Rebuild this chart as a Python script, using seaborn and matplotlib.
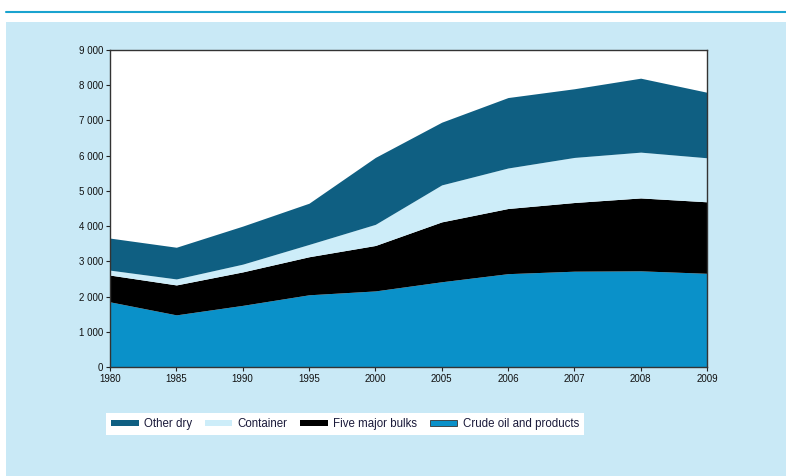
import matplotlib
matplotlib.use("Agg")
import matplotlib.pyplot as plt
import seaborn as sns
import numpy as np
from matplotlib.patches import Rectangle, Patch
from matplotlib.lines import Line2D

years = ["1980", "1985", "1990", "1995", "2000", "2005", "2006", "2007", "2008", "2009"]
crude_oil = [1850, 1480, 1750, 2050, 2160, 2420, 2650, 2720, 2730, 2660]
five_major_bulks = [760, 850, 950, 1080, 1290, 1700, 1850, 1950, 2070, 2030]
container = [140, 170, 220, 350, 600, 1050, 1150, 1280, 1300, 1250]
other_dry = [910, 900, 1080, 1170, 1900, 1780, 2000, 1950, 2100, 1860]
series_names = ["Other dry", "Container", "Five major bulks", "Crude oil and products"]
y_ticks = [0, 1000, 2000, 3000, 4000, 5000, 6000, 7000, 8000, 9000]
y_tick_labels = ["0", "1 000", "2 000", "3 000", "4 000", "5 000", "6 000", "7 000", "8 000", "9 000"]

sns.set_theme(style="ticks")
plt.rcParams['font.family'] = ['Liberation Sans', 'DejaVu Sans']

c_crude = "#0a91c9"
c_five = "#000000"
c_cont = "#cdedf9"
c_other = "#0f5f82"
panel = "#c9e9f6"

fig = plt.figure(figsize=(7.86, 4.76), dpi=100)
fig.patch.set_facecolor("white")
# background panel
fig.add_artist(Rectangle((6/786, 0), 1, 1 - 22/476, transform=fig.transFigure,
                         facecolor=panel, edgecolor="none", zorder=0))
fig.add_artist(Line2D([6/786, 1], [1 - 12/476, 1 - 12/476], transform=fig.transFigure,
                      color="#1aa3cf", lw=1.5, zorder=1))

ax = fig.add_axes([110/786, 1 - 367/476, (707 - 110)/786, (367 - 50)/476])
ax.set_facecolor("white")
x = np.arange(len(years))
ax.stackplot(x, crude_oil, five_major_bulks, container, other_dry,
             colors=[c_crude, c_five, c_cont, c_other], linewidth=0)
ax.set_xlim(0, len(years) - 1)
ax.set_ylim(0, 9000)
ax.set_xticks(x)
ax.set_xticklabels(years)
ax.set_yticks(y_ticks)
ax.set_yticklabels(y_tick_labels)
ax.tick_params(axis="both", labelsize=7, length=3, width=0.8, color="#222222",
               labelcolor="#111111", pad=2)
for s in ax.spines.values():
    s.set_color("#333333")
    s.set_linewidth(1.0)

handles = [Patch(facecolor=c_other, edgecolor="none"),
           Patch(facecolor=c_cont, edgecolor="none"),
           Patch(facecolor=c_five, edgecolor="none"),
           Patch(facecolor=c_crude, edgecolor="#333333", linewidth=0.6)]
leg = fig.legend(handles, series_names, loc="center", bbox_to_anchor=(345/786, 1 - 424/476),
                 ncol=4, frameon=True, fancybox=False, facecolor="white", edgecolor="none",
                 fontsize=8.3, handlelength=2.4, handleheight=0.45, handletextpad=0.45,
                 columnspacing=1.1, borderpad=0.4, framealpha=1)
for t in leg.get_texts():
    t.set_color("#1a1a3a")

fig.savefig("out.png", dpi=100, facecolor=fig.get_facecolor())
